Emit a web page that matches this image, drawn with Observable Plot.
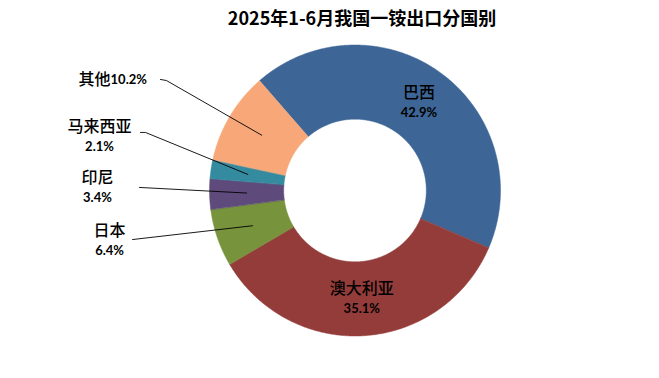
<!DOCTYPE html>
<html><head><meta charset="utf-8">
<script src="https://cdn.jsdelivr.net/npm/d3@7"></script>
<script src="https://cdn.jsdelivr.net/npm/@observablehq/plot@0.6"></script>
<style>body{margin:0;background:#fff}</style>
</head><body><div id="chart"></div>
<script>
// ---- data ----
const title = "2025年1-6月我国一铵出口分国别";
const countries = ["巴西", "澳大利亚", "日本", "印尼", "马来西亚", "其他"];
const shares = [42.9, 35.1, 6.4, 3.4, 2.1, 10.2];
const colors = ["#3D6696", "#943C3A", "#77933C", "#5F4B7B", "#348A9E", "#F8A878"];

// ---- layout ----
const START = -41 * Math.PI / 180;
const R0 = 0.49, R1 = 1, RL = 0.745;
const insideLabels = ["巴西", "澳大利亚"];
// outside callouts: label anchor (chart units) and leader-line start/elbow
const callouts = {
  "其他":   {inline: true, lx: -1.680, ly: 0.763, path: [[-1.337, 0.763], [-1.296, 0.756]]},
  "马来西亚": {lx: -1.756, ly: 0.371, path: [[-1.474, 0.399], [-1.440, 0.399]]},
  "印尼":   {lx: -1.770, ly: 0.021, path: [[-1.481, 0.021]]},
  "日本":   {lx: -1.687, ly: -0.344, path: [[-1.529, -0.337]]}
};

const arcs = d3.pie().sort(null).startAngle(START).endAngle(START + 2 * Math.PI)(shares);
const fmt = v => v.toFixed(1) + "%";

const polys = [];
arcs.forEach((a, i) => {
  const n = Math.max(2, Math.ceil((a.endAngle - a.startAngle) / (Math.PI / 360)));
  const ang = k => a.startAngle + (a.endAngle - a.startAngle) * k / n;
  for (let k = 0; k <= n; k++) polys.push({name: countries[i], x: R1 * Math.sin(ang(k)), y: R1 * Math.cos(ang(k))});
  for (let k = n; k >= 0; k--) polys.push({name: countries[i], x: R0 * Math.sin(ang(k)), y: R0 * Math.cos(ang(k))});
});

const mids = arcs.map((a, i) => {
  const t = (a.startAngle + a.endAngle) / 2;
  return {name: countries[i], pct: fmt(shares[i]), x: RL * Math.sin(t), y: RL * Math.cos(t)};
});
const inside = mids.filter(d => insideLabels.includes(d.name));
const outside = mids.filter(d => callouts[d.name]).map(d => ({...d, ...callouts[d.name]}));

const leaders = [];
outside.forEach(d => {
  d.path.forEach(([x, y]) => leaders.push({name: d.name, x, y}));
  leaders.push({name: d.name, x: d.x, y: d.y});
});

const cjk = "'Noto Sans CJK SC', sans-serif";
const num = "Lato, 'Noto Sans CJK SC', sans-serif";
const nameW = 500;

const chart = Plot.plot({
  width: 659, height: 378,
  margin: 0,
  x: {domain: [-1, 1], range: [209, 500], axis: null},
  y: {domain: [-1, 1], range: [335.5, 44.5], axis: null},
  color: {domain: countries, range: colors},
  style: {background: "#fff"},
  marks: [
    Plot.line(polys, {x: "x", y: "y", z: "name", fill: "name", stroke: "name", strokeWidth: 0.5, curve: "linear-closed"}),
    Plot.line(leaders, {x: "x", y: "y", z: "name", stroke: "#000", strokeWidth: 0.9}),
    // inside labels
    Plot.text(inside, {x: "x", y: "y", text: "name", dy: -10, fontSize: 16, fontWeight: nameW, fontFamily: cjk, fill: "#000"}),
    Plot.text(inside, {x: "x", y: "y", text: "pct", dy: 10, fontSize: 13, fontWeight: "bold", fontFamily: num, fill: "#000"}),
    // outside two-line labels
    Plot.text(outside.filter(d => !d.inline), {x: "lx", y: "ly", text: "name", dy: -10, fontSize: 16, fontWeight: nameW, fontFamily: cjk, fill: "#000"}),
    Plot.text(outside.filter(d => !d.inline), {x: "lx", y: "ly", text: "pct", dy: 10, fontSize: 13, fontWeight: "bold", fontFamily: num, fill: "#000"}),
    // inline label
    Plot.text(outside.filter(d => d.inline), {x: "lx", y: "ly", text: "name", textAnchor: "end", fontSize: 16, fontWeight: nameW, fontFamily: cjk, fill: "#000"}),
    Plot.text(outside.filter(d => d.inline), {x: "lx", y: "ly", text: "pct", textAnchor: "start", fontSize: 13, fontWeight: "bold", fontFamily: num, fill: "#000"}),
    // title
    Plot.text([title], {frameAnchor: "top", dx: 32, dy: 12, lineAnchor: "top", fontSize: 18, fontWeight: "bold", fontFamily: cjk, fill: "#000"})
  ]
});
document.getElementById("chart").appendChild(chart);
</script>
</body></html>
